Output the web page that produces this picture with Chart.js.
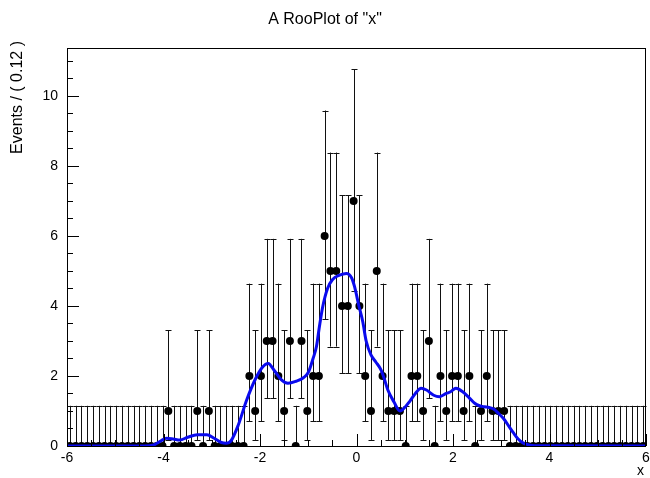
<!DOCTYPE html>
<html>
<head>
<meta charset="utf-8">
<script src="https://cdn.jsdelivr.net/npm/chart.js@4.4.0/dist/chart.umd.min.js"></script>
<style>
  body { margin: 0; background: #fff; }
  #wrap { width: 650px; height: 478px; }
</style>
</head>
<body>
<div id="wrap"><canvas id="c"></canvas></div>
<script>
// histogram: 100 bins of 0.12 on [-6, 6]
const xMin = -6, xMax = 6, binWidth = 0.12;
const counts = [
  0,0,0,0,0,0,0,0,0,0, 0,0,0,0,0,0,0,1,0,0,
  0,0,1,0,1,0,0,0,0,0, 0,2,1,2,3,3,2,1,3,0,
  3,1,2,2,6,5,5,4,4,7, 4,2,1,5,2,1,1,1,0,2,
  2,1,3,0,2,1,2,2,1,2, 0,1,2,1,1,1,0,0,0,0,
  0,0,0,0,0,0,0,0,0,0, 0,0,0,0,0,0,0,0,0,0
];
// asymmetric poisson error bounds by count (as drawn)
const poissonLo = [0, 0.173, 0.708, 1.367, 2.086, 2.840, 3.620, 4.419];
const poissonHi = [1.148, 3.300, 4.638, 5.918, 7.163, 8.382, 9.584, 10.77];

// blue pdf curve
const curveX = [-6, -4.4, -4.2, -4.05, -3.94, -3.8, -3.66, -3.5, -3.3, -3.1, -2.95, -2.8, -2.7, -2.6, -2.45, -2.28,
  -2.1, -1.95, -1.83, -1.7, -1.55, -1.42, -1.25, -1.1, -1.0, -0.9, -0.83, -0.77, -0.7, -0.6, -0.5, -0.35, -0.21,
  -0.1, -0.04, 0.05, 0.13, 0.2, 0.3, 0.4, 0.51, 0.58, 0.65, 0.78, 0.9, 1.0, 1.1, 1.22, 1.34, 1.45, 1.6, 1.72,
  1.86, 1.95, 2.06, 2.2, 2.34, 2.45, 2.55, 2.65, 2.75, 2.85, 2.95, 3.05, 3.15, 3.25, 3.35, 3.45, 3.55, 3.7, 6];
const curveY = [0, 0, 0.03, 0.15, 0.22, 0.2, 0.17, 0.25, 0.32, 0.32, 0.22, 0.1, 0.08, 0.15, 0.6, 1.3,
  1.9, 2.25, 2.36, 2.15, 1.88, 1.79, 1.85, 1.95, 2.1, 2.5, 2.84, 3.4, 3.98, 4.5, 4.75, 4.88, 4.93,
  4.8, 4.55, 4.0, 3.55, 3.0, 2.6, 2.4, 2.17, 1.9, 1.6, 1.25, 1.0, 1.1, 1.27, 1.5, 1.65, 1.6, 1.45, 1.41,
  1.5, 1.55, 1.65, 1.55, 1.37, 1.22, 1.15, 1.12, 1.1, 1.05, 0.92, 0.78, 0.58, 0.38, 0.2, 0.09, 0.04, 0.01, 0];

const xTicks = [-6, -4, -2, 0, 2, 4, 6];
const yTicks = [0, 2, 4, 6, 8, 10];
const yMax = 11.37;

const pts = counts.map((n, i) => ({ x: xMin + (i + 0.5) * binWidth, y: n }));
const curve = curveX.map((x, i) => ({ x: x, y: curveY[i] }));

const FONT = '"Liberation Sans", Arial, sans-serif';

const rootStyle = {
  id: 'rootStyle',
  beforeDatasetsDraw(chart) {
    const ctx = chart.ctx, xs = chart.scales.x, ys = chart.scales.y;
    ctx.save();
    ctx.strokeStyle = '#111';
    ctx.lineWidth = 1;
    ctx.beginPath();
    counts.forEach((n, i) => {
      const px = Math.round(xs.getPixelForValue(pts[i].x)) + 0.5;
      const lo = ys.getPixelForValue(poissonLo[n]);
      const hi = ys.getPixelForValue(poissonHi[n]);
      ctx.moveTo(px, lo); ctx.lineTo(px, hi);
      const yh = Math.round(hi) + 0.5;
      ctx.moveTo(px - 3, yh); ctx.lineTo(px + 3, yh);
      if (n > 0) {
        const yl = Math.round(lo) + 0.5;
        ctx.moveTo(px - 3, yl); ctx.lineTo(px + 3, yl);
      }
    });
    ctx.stroke();
    ctx.restore();
  },
  afterDraw(chart) {
    const ctx = chart.ctx, a = chart.chartArea, xs = chart.scales.x, ys = chart.scales.y;
    ctx.save();
    ctx.strokeStyle = '#000';
    ctx.lineWidth = 1;
    ctx.strokeRect(Math.round(a.left) + 0.5, Math.round(a.top) + 0.5,
      Math.round(a.right - a.left) - 1, Math.round(a.bottom - a.top));
    ctx.beginPath();
    // x ticks inside the frame
    for (let v = xMin; v <= xMax + 1e-9; v += 0.5) {
      const px = Math.round(xs.getPixelForValue(v)) + 0.5;
      const len = xTicks.includes(Math.round(v * 10) / 10) ? 12 : 6;
      ctx.moveTo(px, a.bottom); ctx.lineTo(px, a.bottom - len);
    }
    // y ticks inside the frame
    for (let v = 0; v <= yMax; v += 0.5) {
      const py = Math.round(ys.getPixelForValue(v)) + 0.5;
      const len = yTicks.includes(v) ? 12 : 6;
      ctx.moveTo(a.left, py); ctx.lineTo(a.left + len, py);
    }
    ctx.stroke();

    ctx.fillStyle = '#000';
    ctx.font = '16px ' + FONT;
    ctx.textAlign = 'center';
    ctx.textBaseline = 'middle';
    ctx.fillText('A RooPlot of "x"', 325, 20);

    ctx.font = '14px ' + FONT;
    ctx.textAlign = 'right';
    ctx.fillText('x', a.right - 2, 471);

    ctx.font = '16px ' + FONT;
    ctx.translate(18, a.top - 7);
    ctx.rotate(-Math.PI / 2);
    ctx.textAlign = 'right';
    ctx.fillText('Events / ( 0.12 )', 0, 0);
    ctx.restore();
  }
};

new Chart(document.getElementById('c'), {
  type: 'scatter',
  data: {
    datasets: [
      {
        label: 'pdf',
        data: curve,
        showLine: true,
        borderColor: '#0a0aee',
        borderWidth: 3,
        pointRadius: 0,
        cubicInterpolationMode: 'monotone',
        fill: false
      },
      {
        label: 'data',
        data: pts,
        pointRadius: 4,
        pointBackgroundColor: '#000',
        pointBorderColor: '#000',
        pointBorderWidth: 0
      }
    ]
  },
  options: {
    responsive: true,
    maintainAspectRatio: false,
    animation: false,
    devicePixelRatio: 1,
    layout: { padding: { top: 48, right: 0, left: 0, bottom: 0 } },
    plugins: { legend: { display: false }, title: { display: false }, tooltip: { enabled: false } },
    scales: {
      x: {
        type: 'linear', min: xMin, max: xMax,
        grid: { display: false, drawTicks: false }, border: { display: false },
        ticks: { stepSize: 2, color: '#000', font: { family: FONT, size: 14 }, padding: 4, maxRotation: 0 },
        afterFit: s => { s.height = 32; s.paddingLeft = 0; s.paddingRight = 0; }
      },
      y: {
        min: 0, max: yMax,
        grid: { display: false, drawTicks: false }, border: { display: false },
        ticks: { stepSize: 2, color: '#000', font: { family: FONT, size: 14 }, padding: 9 },
        afterBuildTicks: s => { s.ticks = s.ticks.filter(t => yTicks.includes(t.value)); },
        afterFit: s => { s.width = 67; s.paddingTop = 0; s.paddingBottom = 0; }
      }
    }
  },
  plugins: [rootStyle]
});
</script>
</body>
</html>
